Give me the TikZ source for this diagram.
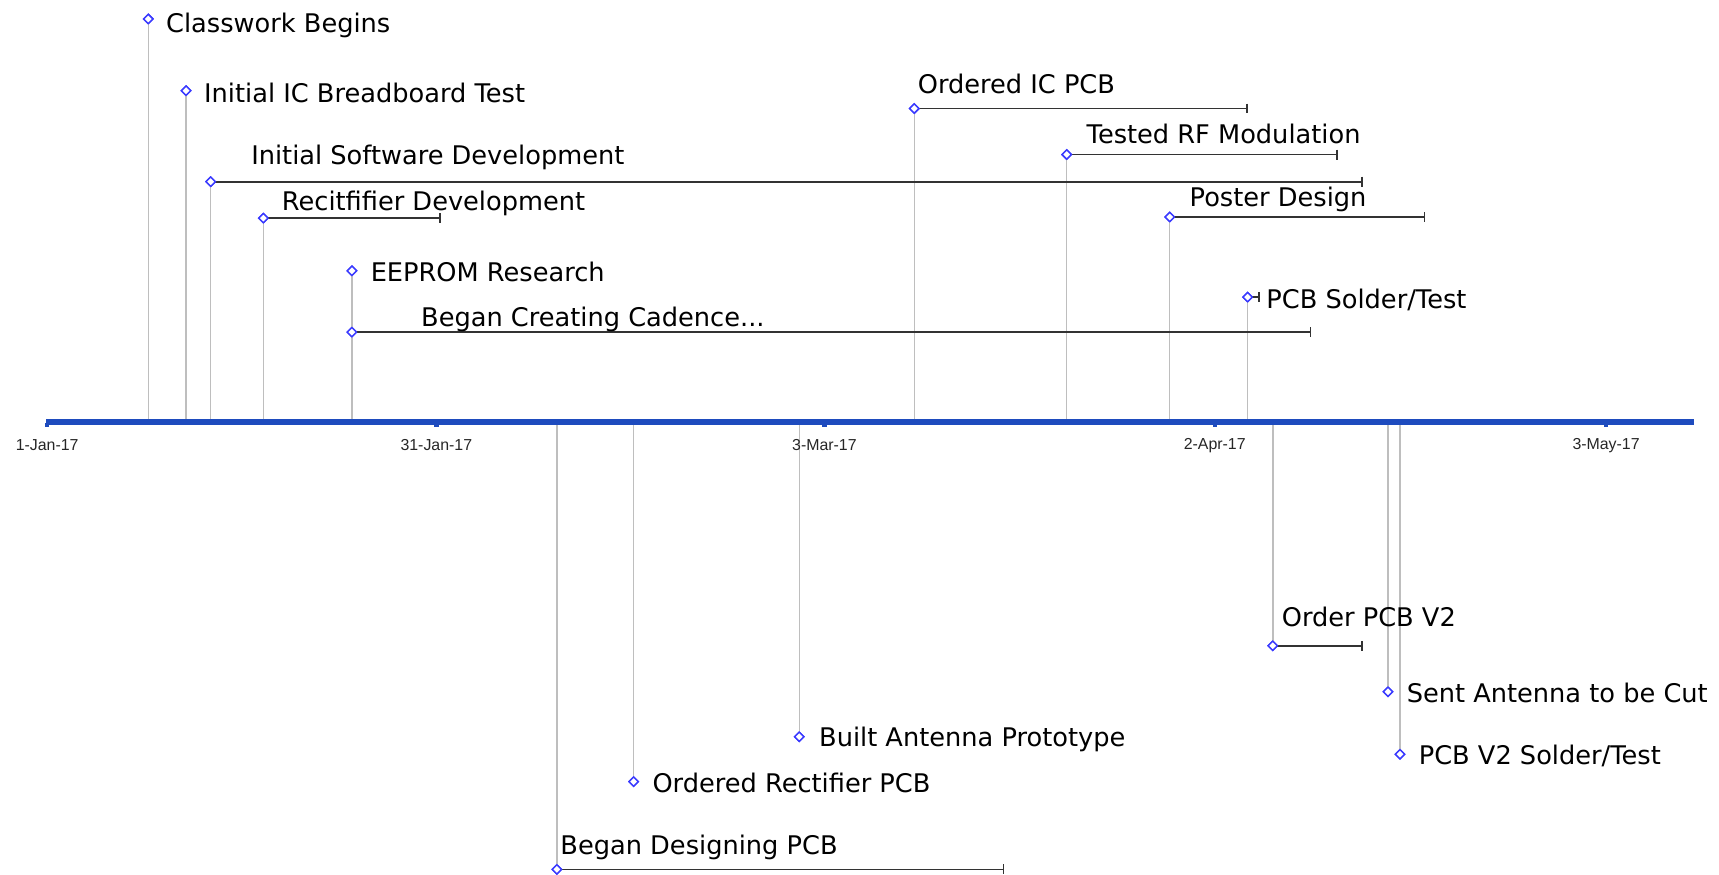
\documentclass[tikz,border=0pt]{standalone}
\usepackage{fontspec}
\setmainfont{DejaVu Sans}
\newfontfamily\axfont{Liberation Sans}
\usetikzlibrary{shapes.geometric,arrows.meta}
\definecolor{axisblue}{HTML}{1E4BBE}
\definecolor{diablue}{HTML}{3A3AFF}
\definecolor{stemgray}{HTML}{BEBEBE}
\definecolor{bargray}{HTML}{333333}
\tikzset{
  dia/.style={diamond, draw=diablue, fill=white, line width=1.3pt, minimum width=9pt, minimum height=9pt, inner sep=0pt},
  stem/.style={draw=stemgray, line width=1.3pt},
  bar/.style={draw=bargray, line width=1.6pt, -{Bar[width=9pt,line width=1.5pt]}},
  lbl/.style={font=\fontsize{23.4}{28}\selectfont, text=black, inner sep=0pt, anchor=base west},
  ticklbl/.style={font=\axfont\fontsize{14.5}{16}\selectfont, text=black!85, inner sep=0pt},
  axisline/.style={draw=axisblue, line width=5pt},
  tickmark/.style={draw=axisblue, line width=4pt}
}
\begin{document}
\begin{tikzpicture}[x=1pt,y=-1pt]
\useasboundingbox (0,0) rectangle (1568,798);
% axis anchor coordinates
\foreach \n/\x in {1/135.3,2/169.7,3/192.2,4/240.2,5/321,6/321,7/834,8/973,9/1067,10/1138,11/508,12/578,13/729,14/1161,15/1266,16/1277}
  \coordinate (a\n) at (\x,385);
% event diamonds (placed as nodes)
\node[dia] (e1) at (135.3,17.3) {};
\node[dia] (e2) at (169.7,82.7) {};
\node[dia] (e3) at (192.2,165.7) {};
\node[dia] (e4) at (240.2,199) {};
\node[dia] (e5) at (321,247) {};
\node[dia] (e6) at (321,303) {};
\node[dia] (e7) at (834,99) {};
\node[dia] (e8) at (973,141) {};
\node[dia] (e9) at (1067,198) {};
\node[dia] (e10) at (1138,271) {};
\node[dia] (e11) at (508,793) {};
\node[dia] (e12) at (578,713) {};
\node[dia] (e13) at (729,672) {};
\node[dia] (e14) at (1161,589) {};
\node[dia] (e15) at (1266,631) {};
\node[dia] (e16) at (1277,688) {};
% stems
\foreach \n in {1,...,16} \draw[stem] (a\n) -- (e\n.center);
% bar ends
\coordinate (f3) at (1243,165.7);
\coordinate (f4) at (402,199);
\coordinate (f6) at (1196,303);
\coordinate (f7) at (1138,99);
\coordinate (f8) at (1220,141);
\coordinate (f9) at (1300,198);
\coordinate (f10) at (1149,271);
\coordinate (f11) at (916,793);
\coordinate (f14) at (1243,589);
\foreach \n in {3,4,6,7,8,9,10,11,14} \draw[bar] (e\n.center) -- (f\n);
% redraw diamonds on top
\foreach \n in {1,...,16} \node[dia] at (e\n) {};
% axis
\coordinate (axL) at (42,385);
\coordinate (axR) at (1545,385);
\draw[axisline] (axL) -- (axR);
\foreach \n/\x/\t in {k1/43/1-Jan-17,k2/398/31-Jan-17,k3/752/3-Mar-17,k4/1108/2-Apr-17,k5/1465/3-May-17}{
  \coordinate (\n) at (\x,385);
  \draw[tickmark] ([yshift=-1pt]\n) -- ([yshift=-4.5pt]\n);
  \node[ticklbl] (l\n) at ([yshift=-21pt]\n) {\t};
}
% labels
\node[lbl] (t1) at (151.4,29.5) {Classwork Begins};
\node[lbl] (t2) at (186,93.3) {Initial IC Breadboard Test};
\node[lbl] (t3) at (229,150.5) {Initial Software Development};
\node[lbl] (t4) at (257,192.2) {Recitfifier Development};
\node[lbl] (t5) at (338,256.5) {EEPROM Research};
\node[lbl] (t6) at (384,297.5) {Began Creating Cadence...};
\node[lbl] (t7) at (837,85.5) {Ordered IC PCB};
\node[lbl] (t8) at (991,130.5) {Tested RF Modulation};
\node[lbl] (t9) at (1085,188.5) {Poster Design};
\node[lbl] (t10) at (1155,281.5) {PCB Solder/Test};
\node[lbl] (t11) at (511,779.5) {Began Designing PCB};
\node[lbl] (t12) at (595,722.5) {Ordered Rectifier PCB};
\node[lbl] (t13) at (747,680.5) {Built Antenna Prototype};
\node[lbl] (t14) at (1169,571.5) {Order PCB V2};
\node[lbl] (t15) at (1283,640.5) {Sent Antenna to be Cut};
\node[lbl] (t16) at (1294,697.5) {PCB V2 Solder/Test};
\end{tikzpicture}
\end{document}
